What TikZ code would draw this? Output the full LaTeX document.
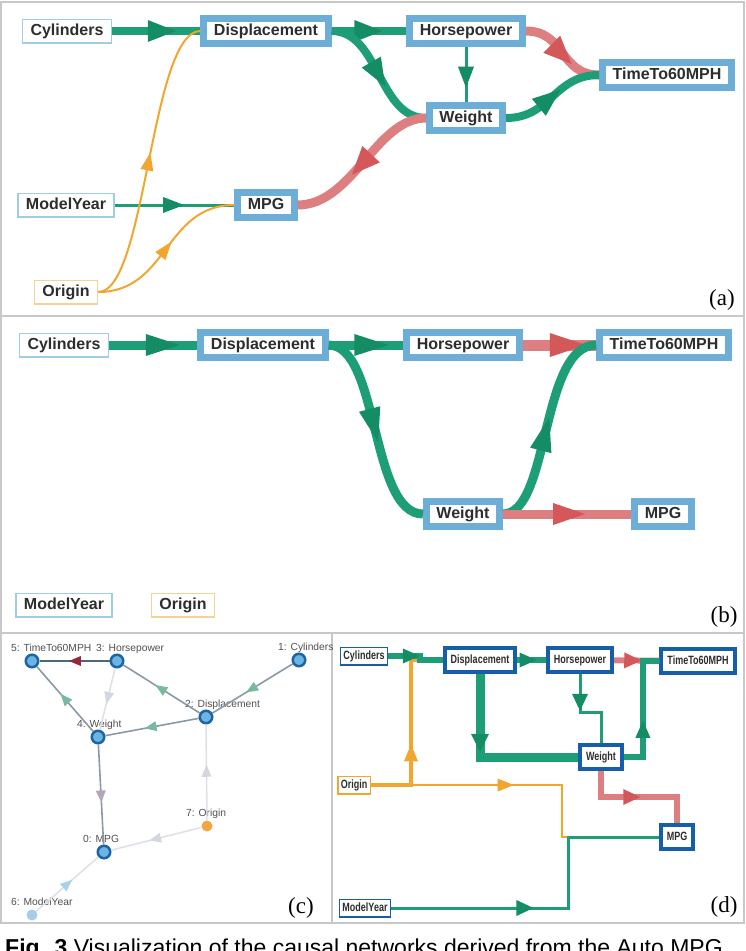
\documentclass[tikz,border=0pt]{standalone}
\usepackage{fontspec}
\setmainfont{Liberation Sans}
\newfontfamily\serifpanel{Liberation Serif}
\newfontfamily\narrowsans[FakeStretch=0.75]{Liberation Sans}
\usetikzlibrary{decorations.markings}

\definecolor{flowgreen}{RGB}{30,158,118}
\definecolor{headgreen}{RGB}{20,140,100}
\definecolor{flowred}{RGB}{221,126,128}
\definecolor{headred}{RGB}{212,88,90}
\definecolor{floworange}{RGB}{243,166,46}
\definecolor{boxblue}{RGB}{108,174,214}
\definecolor{thinblue}{RGB}{160,205,225}
\definecolor{thinorange}{RGB}{245,210,150}
\definecolor{darkblue}{RGB}{22,94,168}
\definecolor{ringblue}{RGB}{30,100,165}
\definecolor{dotblue}{RGB}{108,180,228}
\definecolor{dotorange}{RGB}{242,165,65}
\definecolor{dotsky}{RGB}{168,204,232}
\definecolor{cdark}{RGB}{75,105,125}
\definecolor{cmid}{RGB}{140,152,165}
\definecolor{clight}{RGB}{222,225,233}
\definecolor{headteal}{RGB}{120,185,160}
\definecolor{headwine}{RGB}{150,40,60}
\definecolor{headmauve}{RGB}{180,165,185}
\definecolor{headpale}{RGB}{212,215,225}
\definecolor{headsky}{RGB}{170,210,230}
\definecolor{framegray}{RGB}{200,200,200}
\definecolor{textgray}{RGB}{45,45,45}
\definecolor{labelgray}{RGB}{80,80,80}

\newcommand{\boxtext}{\fontsize{16}{18}\selectfont\bfseries}
\newcommand{\smallboxtext}{\narrowsans\fontsize{12}{14}\selectfont\bfseries}
\newcommand{\graphtext}{\fontsize{10.3}{12}\selectfont}
\newcommand{\paneltext}{\serifpanel\fontsize{23}{25}\selectfont}
\newcommand{\captiontext}{\fontsize{23}{25}\selectfont}

\tikzstyle{varbox}=[
      rectangle,
      draw = boxblue, line width = 7pt,
      fill = white,
      inner xsep = 10pt, inner ysep = 0pt,
      minimum height = 25pt,
      text height = 11.5pt, text depth = 3.5pt,
      text = textgray,
      font = \boxtext
      ]
\tikzstyle{inputbox}=[varbox, draw = thinblue, line width = 1.5pt,
      inner xsep = 8pt, minimum height = 23.5pt]
\tikzstyle{originbox}=[inputbox, draw = thinorange]
\tikzstyle{gridbox}=[
      rectangle,
      draw = darkblue, line width = 4pt,
      fill = white,
      inner xsep = 6pt, inner ysep = 0pt,
      minimum height = 24pt,
      text height = 8.5pt, text depth = 2.5pt,
      text = textgray,
      font = \smallboxtext
      ]
\tikzstyle{gridinput}=[gridbox, line width = 1.5pt, inner xsep = 3pt,
      minimum height = 17.5pt]
\tikzstyle{gridorigin}=[gridinput, draw = floworange]
\tikzstyle{graphdot}=[circle, draw = ringblue, line width = 2.5pt,
      fill = dotblue, minimum size = 12.5pt, inner sep = 0pt]
\tikzstyle{flatdot}=[circle, minimum size = 11pt, inner sep = 0pt]
\tikzstyle{dotlabel}=[font = \graphtext, text = labelgray, inner sep = 0pt,
      anchor = base west, xshift = -21pt, yshift = 10pt]
\tikzstyle{panelframe}=[draw = framegray, line width = 1.5pt]
\tikzstyle{panelletter}=[font = \paneltext, inner sep = 0pt]

\tikzset{
  headat/.style n args={4}{postaction={decorate, decoration={markings,
      mark=at position #1 with {\fill[#4] (0pt,0pt) -- (-#2,#3) -- (-#2,-#3) -- cycle;}}}},
  gbig/.style={color=flowgreen, line width=8pt, headat={#1}{28pt}{11pt}{headgreen}},
  rbig/.style={color=flowred, line width=9pt, headat={#1}{28pt}{12pt}{headred}},
  gthin/.style={color=flowgreen, line width=3pt, headat={#1}{21pt}{8pt}{headgreen}},
  othin/.style={color=floworange, line width=2pt, headat={#1}{18pt}{6.5pt}{floworange}},
  gwide/.style={color=flowgreen, line width=9pt, headat={#1}{34pt}{11pt}{headgreen}},
  rwide/.style={color=flowred, line width=11pt, headat={#1}{36pt}{12pt}{headred}},
  rmid/.style={color=flowred, line width=9pt, headat={#1}{32pt}{11pt}{headred}},
  cedge/.style 2 args={draw=#1, line width=1.6pt, headat={0.58}{12pt}{5pt}{#2}},
  dgreen/.style={color=flowgreen, line width=6pt, headat={#1}{17pt}{7.5pt}{headgreen}},
  dgreenwide/.style={color=flowgreen, line width=9pt, headat={#1}{18pt}{9pt}{headgreen}},
  dgreenthin/.style={color=flowgreen, line width=3pt, headat={#1}{17pt}{8pt}{headgreen}},
  dred/.style={color=flowred, line width=6pt, headat={#1}{17pt}{8pt}{headred}},
  dorange/.style={color=floworange, line width=4pt, headat={#1}{17pt}{7pt}{floworange}},
  dorangethin/.style={color=floworange, line width=2pt, headat={#1}{16pt}{6.5pt}{floworange}}
}

\begin{document}
\begin{tikzpicture}[x=1pt, y=-1pt]
\useasboundingbox (0,0) rectangle (746,951);
\clip (0,0) rectangle (746,951);

\draw[panelframe] (1,2) rectangle (744,923);
\draw[panelframe] (1,316) -- (744,316);
\draw[panelframe] (1,633) -- (744,633);
\draw[panelframe] (332,633) -- (332,923);

% (a)
\node[inputbox] (aCyl) at (67,31) {Cylinders};
\node[varbox] (aDisp) at (266,31) {Displacement};
\node[varbox] (aHP) at (466,31) {Horsepower};
\node[varbox] (aWt) at (466,118) {Weight};
\node[varbox] (aTime) at (667,75) {TimeTo60MPH};
\node[inputbox] (aMY) at (66,205) {ModelYear};
\node[varbox] (aMPG) at (266,205) {MPG};
\node[originbox] (aOrg) at (66,292) {Origin};

\draw[gbig=0.72] (aCyl) -- (aDisp);
\draw[gbig=0.68] (aDisp) -- (aHP);
\draw[gbig=0.6] (aDisp.east) .. controls +(48,0) and +(-48,0) .. (aWt.west);
\draw[gthin=0.74] (aHP) -- (aWt);
\draw[rbig=0.66] (aHP.east) .. controls +(40,0) and +(-40,0) .. (aTime.west);
\draw[gbig=0.6] (aWt.east) .. controls +(45,0) and +(-45,0) .. (aTime.west);
\draw[rbig=0.6] (aWt.west) .. controls +(-50,0) and +(55,0) .. (aMPG.east);
\draw[gthin=0.58] (aMY) -- (aMPG);
\draw[othin=0.53] (aOrg.east) .. controls +(48,0) and +(-50,0) .. (aDisp.west);
\draw[othin=0.55] (aOrg.east) .. controls +(70,0) and +(-70,0) .. (aMPG.west);
\node[panelletter] (tagA) at (722,300) {(a)};

% (b)
\node[inputbox] (bCyl) at (64,345) {Cylinders};
\node[varbox] (bDisp) at (263,345) {Displacement};
\node[varbox] (bHP) at (463,345) {Horsepower};
\node[varbox] (bTime) at (664,345) {TimeTo60MPH};
\node[varbox] (bWt) at (463,514) {Weight};
\node[varbox] (bMPG) at (663,514) {MPG};
\node[inputbox] (bMY) at (64,605) {ModelYear};
\node[originbox] (bOrg) at (183,605) {Origin};

\draw[gwide=0.8] (bCyl) -- (bDisp);
\draw[gwide=0.8] (bDisp) -- (bHP);
\draw[rwide=0.86] (bHP) -- (bTime);
\draw[gwide=0.56] (bDisp.east) .. controls +(51,0) and +(-53,0) .. (bWt.west);
\draw[gwide=0.55] (bWt.east) .. controls +(47,0) and +(-56,0) .. (bTime.west);
\draw[rmid=0.64] (bWt) -- (bMPG);
\node[panelletter] (tagB) at (724,617) {(b)};

% (c)
\node[graphdot] (c5) at (32,661) {};
\node[graphdot] (c3) at (117,661) {};
\node[graphdot] (c1) at (299,660) {};
\node[graphdot] (c2) at (206,717) {};
\node[graphdot] (c4) at (98,737) {};
\node[graphdot] (c0) at (104,852) {};
\node[flatdot, fill=dotorange] (c7) at (207,826) {};
\node[flatdot, fill=dotsky] (c6) at (32,915) {};
\node[dotlabel] (l5) at (c5) {5: TimeTo60MPH};
\node[dotlabel] (l3) at (c3) {3: Horsepower};
\node[dotlabel] (l1) at (c1) {1: Cylinders};
\node[dotlabel] (l2) at (c2) {2: Displacement};
\node[dotlabel] (l4) at (c4) {4: Weight};
\node[dotlabel] (l0) at (c0) {0: MPG};
\node[dotlabel] (l7) at (c7) {7: Origin};
\node[dotlabel] (l6) at (c6) {6: ModelYear};

\draw[cedge={cdark}{headwine}] (c3) -- (c5);
\draw[cedge={cmid}{headteal}] (c4) -- (c5);
\draw[cedge={clight}{headpale}] (c3) -- (c4);
\draw[cedge={cmid}{headteal}] (c2) -- (c3);
\draw[cedge={cmid}{headteal}] (c1) -- (c2);
\draw[cedge={cmid}{headteal}] (c2) -- (c4);
\draw[cedge={cmid}{headmauve}] (c4) -- (c0);
\draw[cedge={clight}{headpale}] (c7) -- (c2);
\draw[cedge={clight}{headpale}] (c7) -- (c0);
\draw[cedge={clight}{headsky}] (c6) -- (c0);
\node[panelletter] (tagC) at (301,908) {(c)};

% (d)
\node[gridinput] (dCyl) at (364,656) {Cylinders};
\node[gridbox] (dDisp) at (480,660) {Displacement};
\node[gridbox] (dHP) at (580,660) {Horsepower};
\node[gridbox] (dTime) at (698,661) {TimeTo60MPH};
\node[gridbox] (dWt) at (601,757) {Weight};
\node[gridbox] (dMPG) at (677,837) {MPG};
\node[gridorigin] (dOrg) at (354,785) {Origin};
\node[gridinput] (dMY) at (365,908) {ModelYear};

\draw[dorange=0.41] (dOrg.east) -- ++(40,0) |- (dDisp.west);
\draw[dorangethin=0.42] (dOrg.east) -- ++(191,0) |- (dMPG.west);
\draw[dgreen=0.54] (dCyl.east) -- ++(32,0) |- (dDisp.west);
\draw[dgreenthin=0.42] (dMY.east) -- ++(177,0) |- (dMPG.west);
\draw[dgreen=0.67] (dDisp) -- (dHP);
\draw[dred=0.6] (dHP) -- (dTime);
\draw[dgreenwide=0.43] (dDisp.south) |- (dWt.west);
\draw[dgreenthin=0.41] (dHP.south) -- ++(0,38) -| (dWt.north);
\draw[dgreen=0.42] (dWt.east) -- ++(19,0) |- (dTime.west);
\draw[dred=0.51] (dWt.south) -- ++(0,26) -| (dMPG.north);
\node[panelletter] (tagD) at (724,907) {(d)};

\node[anchor=north west, inner sep=0pt, font=\captiontext] (caption) at (5,939)
  {\textbf{Fig. 3} Visualization of the causal networks derived from the Auto MPG};
\end{tikzpicture}
\end{document}
